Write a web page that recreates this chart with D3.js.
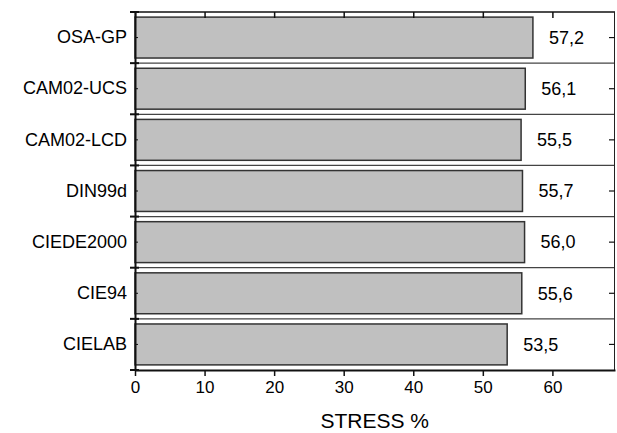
<!DOCTYPE html>
<html>
<head>
<meta charset="utf-8">
<script src="https://cdn.jsdelivr.net/npm/d3@7"></script>
<style>
  html, body { margin: 0; padding: 0; background: #fff; }
  svg { display: block; font-family: "Liberation Sans", Arial, sans-serif; }
</style>
</head>
<body>
<svg id="chart" width="617" height="433"></svg>
<script>
const categories = ["OSA-GP", "CAM02-UCS", "CAM02-LCD", "DIN99d", "CIEDE2000", "CIE94", "CIELAB"];
const stressValues = [57.2, 56.1, 55.5, 55.7, 56.0, 55.6, 53.5];
const xTickValues = [0, 10, 20, 30, 40, 50, 60];
const xAxisTitle = "STRESS %";

const W = 617, H = 433;
const margin = {left: 135, right: 2, top: 12, bottom: 63};
const x0 = margin.left, x1 = W - margin.right, y0 = margin.top, y1 = H - margin.bottom;

const svg = d3.select("#chart");
const x = d3.scaleLinear().domain([0, 69]).range([x0, x1]);
const y = d3.scaleBand().domain(categories).range([y0, y1]).paddingInner(0.2).paddingOuter(0.1);
const step = y.step();
const fmt = v => d3.format(".1f")(v).replace(".", ",");

// row boundaries
const boundaries = d3.range(categories.length + 1).map(i => y0 + i * step);

// grid lines between rows
svg.append("g").selectAll("line")
  .data(boundaries.slice(1, -1))
  .join("line")
  .attr("x1", x0).attr("x2", x1)
  .attr("y1", d => d).attr("y2", d => d)
  .attr("stroke", "#444").attr("stroke-width", 1.2);

// bars
svg.append("g").selectAll("rect")
  .data(categories)
  .join("rect")
  .attr("x", x(0))
  .attr("y", d => y(d))
  .attr("width", (d, i) => x(stressValues[i]) - x(0))
  .attr("height", y.bandwidth())
  .attr("fill", "#c0c0c0")
  .attr("stroke", "#333")
  .attr("stroke-width", 1.5);

// value labels
svg.append("g").selectAll("text")
  .data(categories)
  .join("text")
  .attr("x", (d, i) => x(stressValues[i]) + 16)
  .attr("y", d => y(d) + y.bandwidth() / 2)
  .attr("dy", "0.35em")
  .attr("font-size", 18)
  .attr("fill", "#000")
  .text((d, i) => fmt(stressValues[i]));

// frame: top and right
svg.append("line").attr("x1", x0).attr("x2", x1).attr("y1", y0).attr("y2", y0)
  .attr("stroke", "#111").attr("stroke-width", 1.5);
svg.append("line").attr("x1", x1 - 0.5).attr("x2", x1 - 0.5).attr("y1", y0).attr("y2", y1)
  .attr("stroke", "#222").attr("stroke-width", 1);

// top axis ticks (inward)
const topAxis = d3.axisTop(x).tickValues(xTickValues).tickSize(-6).tickSizeOuter(0).tickFormat("");
const gTop = svg.append("g").attr("transform", `translate(0,${y0})`).call(topAxis);
gTop.select(".domain").remove();
gTop.selectAll(".tick line").attr("stroke", "#111").attr("stroke-width", 1.5);

// bottom axis
const bottomAxis = d3.axisBottom(x).tickValues(xTickValues).tickSize(6).tickSizeOuter(0).tickPadding(5).tickFormat(d3.format("d"));
const gBottom = svg.append("g").attr("transform", `translate(0,${y1})`).call(bottomAxis);
gBottom.select(".domain").attr("stroke", "#111").attr("stroke-width", 2);
gBottom.selectAll(".tick line").attr("stroke", "#111").attr("stroke-width", 1.5);
gBottom.selectAll(".tick text").attr("font-size", 17).attr("fill", "#000").attr("font-family", "Liberation Sans, Arial, sans-serif");

// right axis ticks (inward at row centers)
const rightAxis = d3.axisRight(y).tickSize(-6).tickSizeOuter(0).tickFormat("");
const gRight = svg.append("g").attr("transform", `translate(${x1},0)`).call(rightAxis);
gRight.select(".domain").remove();
gRight.selectAll(".tick line").attr("stroke", "#111").attr("stroke-width", 1.2);

// left axis: labels + inward center ticks
const leftAxis = d3.axisLeft(y).tickSize(-3).tickSizeOuter(0).tickPadding(8);
const gLeft = svg.append("g").attr("transform", `translate(${x0},0)`).call(leftAxis);
gLeft.select(".domain").attr("stroke", "#111").attr("stroke-width", 2);
gLeft.selectAll(".tick line").attr("stroke", "#111").attr("stroke-width", 1);
gLeft.selectAll(".tick text").attr("font-size", 18).attr("fill", "#000").attr("font-family", "Liberation Sans, Arial, sans-serif");

// left boundary ticks (outward)
svg.append("g").selectAll("line")
  .data(boundaries)
  .join("line")
  .attr("x1", x0 - 5).attr("x2", x0 + 4)
  .attr("y1", d => d).attr("y2", d => d)
  .attr("stroke", "#111").attr("stroke-width", 2);

// x axis title
svg.append("text")
  .attr("x", (x(0) + x(60)) / 2 + 31)
  .attr("y", 428)
  .attr("text-anchor", "middle")
  .attr("font-size", 21)
  .attr("fill", "#000")
  .text(xAxisTitle);
</script>
</body>
</html>
